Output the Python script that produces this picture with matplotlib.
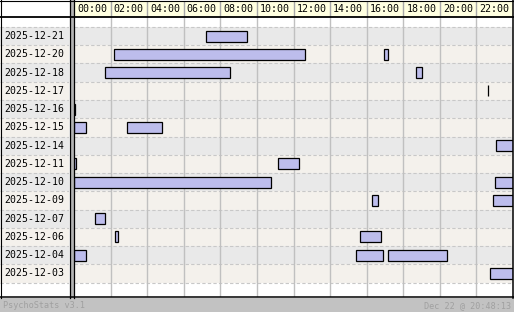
import matplotlib
matplotlib.use("Agg")
import matplotlib.pyplot as plt
from matplotlib.patches import Rectangle

# ---- data ----
row_dates = ["2025-12-21", "2025-12-20", "2025-12-18", "2025-12-17", "2025-12-16",
             "2025-12-15", "2025-12-14", "2025-12-11", "2025-12-10", "2025-12-09",
             "2025-12-07", "2025-12-06", "2025-12-04", "2025-12-03"]

session_dates = ["2025-12-21",
                 "2025-12-20", "2025-12-20",
                 "2025-12-18", "2025-12-18",
                 "2025-12-17",
                 "2025-12-16",
                 "2025-12-15", "2025-12-15",
                 "2025-12-14",
                 "2025-12-11", "2025-12-11",
                 "2025-12-10", "2025-12-10",
                 "2025-12-09", "2025-12-09",
                 "2025-12-07",
                 "2025-12-06", "2025-12-06",
                 "2025-12-04", "2025-12-04", "2025-12-04",
                 "2025-12-03"]
session_start = [7.21,
                 2.18, 16.96,
                 1.69, 18.71,
                 22.65,
                 0.0,
                 0.0, 2.89,
                 23.09,
                 0.0, 11.15,
                 0.0, 23.03,
                 16.30, 22.92,
                 1.14,
                 2.23, 15.64,
                 0.0, 15.42, 17.18,
                 22.76]
session_end = [9.48,
               12.65, 17.14,
               8.53, 19.00,
               22.66,
               0.06,
               0.67, 4.83,
               24.0,
               0.12, 12.30,
               10.77, 24.0,
               16.63, 24.0,
               1.71,
               2.42, 16.79,
               0.67, 16.92, 20.40,
               24.0]

tick_hours = list(range(0, 24, 2))
tick_labels = ["%02d:00" % h for h in tick_hours]

footer_left = "PsychoStats v3.1"
footer_right = "Dec 22 @ 20:48:13"

# ---- layout ----
W, H = 514, 312
fig = plt.figure(figsize=(W / 100, H / 100), dpi=100)
fig.patch.set_facecolor("white")

def fx(px):
    return px / W

def fy(py):
    return 1 - py / H

mono = "DejaVu Sans Mono"
row_colors = ["#e9e9e9", "#f4f1ec"]
bar_fill = "#bdbdec"
grid_col = "#c0c0c0"
dash_col = "#c8c8c8"

n = len(row_dates)
row_px = 18.3
ytop = -0.5 - 10.0 / row_px
ybot = (n - 0.5) + 14.5 / row_px

# plot axes
ax = fig.add_axes([fx(74), fy(297), fx(513) - fx(74), fy(17) - fy(297)])
ax.set_xlim(0, 24)
ax.set_ylim(ybot, ytop)
ax.set_facecolor("white")
for i in range(n):
    ax.axhspan(i - 0.5, i + 0.5, color=row_colors[i % 2], lw=0, zorder=0)
for i in range(n + 1):
    ax.axhline(i - 0.5, color=dash_col, lw=0.8, ls=(0, (3, 2)), zorder=1)
for h in tick_hours[1:]:
    ax.axvline(h, color=grid_col, lw=1.0, zorder=1)

row_index = {d: i for i, d in enumerate(row_dates)}
ys = [row_index[d] for d in session_dates]
widths = [e - s for s, e in zip(session_start, session_end)]
ax.barh(ys, widths, left=session_start, height=0.6, color=bar_fill,
        edgecolor="black", linewidth=0.9, zorder=3)
ax.set_xticks([])
ax.set_yticks([])
for sp in ax.spines.values():
    sp.set_visible(False)

# label axes
lax = fig.add_axes([0, fy(297), fx(69), fy(17) - fy(297)])
lax.set_xlim(0, 1)
lax.set_ylim(ybot, ytop)
lax.set_facecolor("white")
for i in range(n):
    lax.axhspan(i - 0.5, i + 0.5, color=row_colors[i % 2], lw=0, zorder=0)
for i in range(n + 1):
    lax.axhline(i - 0.5, color=dash_col, lw=0.8, ls=(0, (3, 2)), zorder=1)
for i, d in enumerate(row_dates):
    lax.text(4 / 69, i, d, fontsize=7.1, family=mono, va="center", ha="left", color="black")
lax.set_xticks([])
lax.set_yticks([])
for sp in lax.spines.values():
    sp.set_visible(False)

# header axes
hax = fig.add_axes([fx(74), fy(16.5), fx(513) - fx(74), fy(0.5) - fy(16.5)])
hax.set_xlim(0, 24)
hax.set_ylim(0, 1)
hax.set_facecolor("#ffffe0")
for h in tick_hours[1:]:
    hax.axvline(h, color="#a8a8a8", lw=1.0)
for h, lab in zip(tick_hours, tick_labels):
    hax.text(h + 0.17, 0.47, lab, fontsize=7.2, family=mono, va="center", ha="left")
hax.set_xticks([])
hax.set_yticks([])
for sp in hax.spines.values():
    sp.set_visible(False)

# frame lines and separator (figure pixels)
def hline(y, x0, x1, lw=1.0, c="black"):
    fig.add_artist(plt.Line2D([fx(x0), fx(x1)], [fy(y), fy(y)], color=c, lw=lw))

def vline(x, y0, y1, lw=1.0, c="black"):
    fig.add_artist(plt.Line2D([fx(x), fx(x)], [fy(y0), fy(y1)], color=c, lw=lw))

fig.add_artist(Rectangle((fx(69.5), fy(297.5)), fx(4), fy(0) - fy(297.5),
                         transform=fig.transFigure, color="#b4b4b4", lw=0))
hline(0.5, 0, 514, lw=0.8)
hline(16.8, 0, 514, lw=1.3)
hline(297.2, 0, 514, lw=1.1)
vline(0.5, 0, 297.5, lw=0.8)
vline(69.5, 0, 297.5, lw=0.9)
vline(73.6, 0, 297.5, lw=0.9)
vline(513.2, 0, 297.5, lw=1.1)

# footer
fig.add_artist(Rectangle((0, 0), 1, fy(298), transform=fig.transFigure,
                         color="#c2c2c2", lw=0))
fig.text(fx(3), fy(305.5), footer_left, fontsize=6.1, family=mono,
         color="#a0a0a0", va="center", ha="left")
fig.text(fx(511), fy(305.5), footer_right, fontsize=6.1, family=mono,
         color="#a0a0a0", va="center", ha="right")

fig.savefig("out.png", dpi=100)
